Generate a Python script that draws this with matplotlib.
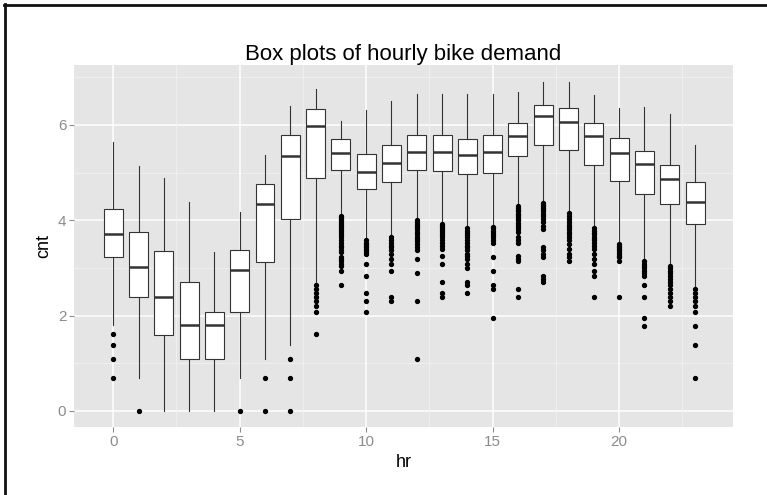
import matplotlib
matplotlib.use("Agg")
import matplotlib.pyplot as plt
from matplotlib.lines import Line2D

plt.rcParams['font.family'] = ['Liberation Sans', 'DejaVu Sans']

# hour of day
hrs = list(range(24))

# box statistics of log(cnt)
whis_hi = [5.65, 5.13, 4.88, 4.38, 3.33, 4.18, 5.37, 6.40, 6.75, 6.08, 6.31, 6.51,
           6.66, 6.64, 6.64, 6.64, 6.70, 6.91, 6.91, 6.62, 6.35, 6.37, 6.22, 5.57]
q3 = [4.24, 3.75, 3.35, 2.71, 2.07, 3.37, 4.77, 5.80, 6.33, 5.70, 5.39, 5.57,
      5.78, 5.78, 5.71, 5.78, 6.05, 6.42, 6.35, 6.05, 5.72, 5.45, 5.17, 4.80]
med = [3.71, 3.01, 2.40, 1.80, 1.80, 2.95, 4.35, 5.35, 5.97, 5.41, 5.01, 5.20,
       5.44, 5.43, 5.37, 5.43, 5.76, 6.19, 6.07, 5.76, 5.42, 5.18, 4.87, 4.39]
q1 = [3.22, 2.39, 1.59, 1.09, 1.09, 2.07, 3.13, 4.03, 4.89, 5.06, 4.66, 4.81,
      5.06, 5.03, 4.97, 5.00, 5.34, 5.58, 5.48, 5.17, 4.82, 4.55, 4.34, 3.92]
whis_lo = [1.80, 0.69, 0.0, 0.0, 0.0, 0.69, 1.10, 1.39, 2.71, 4.13, 3.60, 3.68,
           4.04, 3.96, 3.86, 3.90, 4.32, 4.38, 4.20, 3.87, 3.53, 3.18, 3.08, 2.61]

outliers = [
    [1.61, 1.39, 1.10, 0.69],
    [0.0],
    [],
    [],
    [],
    [0.0],
    [0.69, 0.0],
    [1.10, 0.69, 0.0],
    [2.64, 2.56, 2.48, 2.40, 2.30, 2.20, 2.08, 1.61],
    [4.09, 4.06, 4.03, 4.0, 3.97, 3.93, 3.89, 3.85, 3.81, 3.78, 3.74, 3.69, 3.64,
     3.58, 3.53, 3.47, 3.43, 3.37, 3.33, 3.22, 3.18, 3.14, 3.09, 3.04, 2.94, 2.64],
    [3.58, 3.53, 3.50, 3.47, 3.43, 3.40, 3.37, 3.33, 3.30, 3.09, 2.83, 2.48, 2.30, 2.08],
    [3.64, 3.58, 3.53, 3.47, 3.43, 3.37, 3.30, 3.18, 3.09, 2.94, 2.40, 2.30],
    [4.01, 3.97, 3.93, 3.89, 3.85, 3.81, 3.76, 3.71, 3.66, 3.61, 3.56, 3.50, 3.43,
     3.37, 3.18, 2.89, 2.30, 1.10],
    [3.93, 3.89, 3.85, 3.81, 3.78, 3.74, 3.69, 3.64, 3.58, 3.53, 3.47, 3.40, 3.26,
     3.09, 2.71, 2.48, 2.40],
    [3.83, 3.78, 3.74, 3.69, 3.64, 3.58, 3.53, 3.47, 3.43, 3.37, 3.30, 3.26, 3.18,
     3.09, 3.00, 2.71, 2.64, 2.48],
    [3.87, 3.83, 3.78, 3.74, 3.69, 3.64, 3.58, 3.53, 3.22, 2.94, 2.64, 2.56, 1.95],
    [4.29, 4.25, 4.22, 4.19, 4.14, 4.11, 4.06, 4.03, 4.0, 3.95, 3.91, 3.85, 3.81,
     3.76, 3.64, 3.58, 3.53, 3.26, 3.18, 3.14, 2.56, 2.40],
    [4.36, 4.33, 4.30, 4.26, 4.23, 4.19, 4.14, 4.09, 4.03, 3.97, 3.89, 3.81, 3.43,
     3.37, 3.30, 3.22, 2.83, 2.77, 2.71],
    [4.16, 4.09, 4.03, 3.97, 3.91, 3.85, 3.81, 3.76, 3.71, 3.64, 3.58, 3.50, 3.40,
     3.30, 3.22, 3.14],
    [3.83, 3.78, 3.74, 3.71, 3.66, 3.61, 3.58, 3.53, 3.47, 3.40, 3.30, 3.18, 3.09,
     2.94, 2.83, 2.40],
    [3.50, 3.47, 3.43, 3.40, 3.37, 3.33, 3.30, 3.26, 3.22, 3.14, 2.40],
    [3.14, 3.09, 3.04, 3.00, 2.94, 2.89, 2.83, 2.64, 2.40, 1.95, 1.79],
    [3.04, 3.00, 2.94, 2.89, 2.83, 2.77, 2.71, 2.64, 2.56, 2.48, 2.40, 2.30, 2.20],
    [2.56, 2.48, 2.40, 2.30, 2.20, 2.08, 1.79, 1.39, 0.69],
]

stats = []
for i in range(len(hrs)):
    stats.append(dict(med=med[i], q1=q1[i], q3=q3[i], whislo=whis_lo[i],
                      whishi=whis_hi[i], fliers=outliers[i], label=str(hrs[i])))

fig = plt.figure(figsize=(7.67, 4.95), dpi=100)
ax = fig.add_axes([74/767, 1-427/495, (733-74)/767, (427-65)/495])
ax.set_facecolor('#E5E5E5')

# gridlines (ggplot style)
for v in [1, 3, 5, 7]:
    ax.axhline(v, color='#F2F2F2', lw=0.6, zorder=0)
for v in [0, 2, 4, 6]:
    ax.axhline(v, color='white', lw=1.1, zorder=0)
for v in [2.5, 7.5, 12.5, 17.5, 22.5]:
    ax.axvline(v, color='#F2F2F2', lw=0.6, zorder=0)
for v in [0, 5, 10, 15, 20]:
    ax.axvline(v, color='white', lw=1.1, zorder=0)

ax.bxp(stats, positions=hrs, widths=0.75, patch_artist=True, showfliers=True,
       boxprops=dict(facecolor='white', edgecolor='#333333', linewidth=0.8),
       medianprops=dict(color='#333333', linewidth=1.8),
       whiskerprops=dict(color='#333333', linewidth=0.8),
       capprops=dict(linewidth=0),
       flierprops=dict(marker='o', markerfacecolor='black', markeredgecolor='black',
                       markersize=2.8, linestyle='none'))

ax.set_xlim(-1.55, 24.5)
ax.set_ylim(-0.336, 7.258)
ax.set_xticks([0, 5, 10, 15, 20])
ax.set_xticklabels(['0', '5', '10', '15', '20'])
ax.set_yticks([0, 2, 4, 6])
ax.set_yticklabels(['0', '2', '4', '6'])
for s in ax.spines.values():
    s.set_visible(False)
ax.tick_params(colors='#8C8C8C', labelcolor='#8C8C8C', labelsize=11, length=3.5, width=0.8, pad=2)

ax.set_xlabel('hr', fontsize=13, labelpad=4)
ax.set_ylabel('cnt', fontsize=13, labelpad=4)
ax.set_title('Box plots of hourly bike demand', fontsize=16, pad=3)

# frame around the picture (top and left edges)
fig.add_artist(Line2D([4/767, 1], [1-5/495, 1-5/495], color='#111111', lw=2.0,
                      transform=fig.transFigure))
fig.add_artist(Line2D([5/767, 5/767], [0, 1-4/495], color='#111111', lw=2.0,
                      transform=fig.transFigure))

fig.savefig('out.png', dpi=100)
